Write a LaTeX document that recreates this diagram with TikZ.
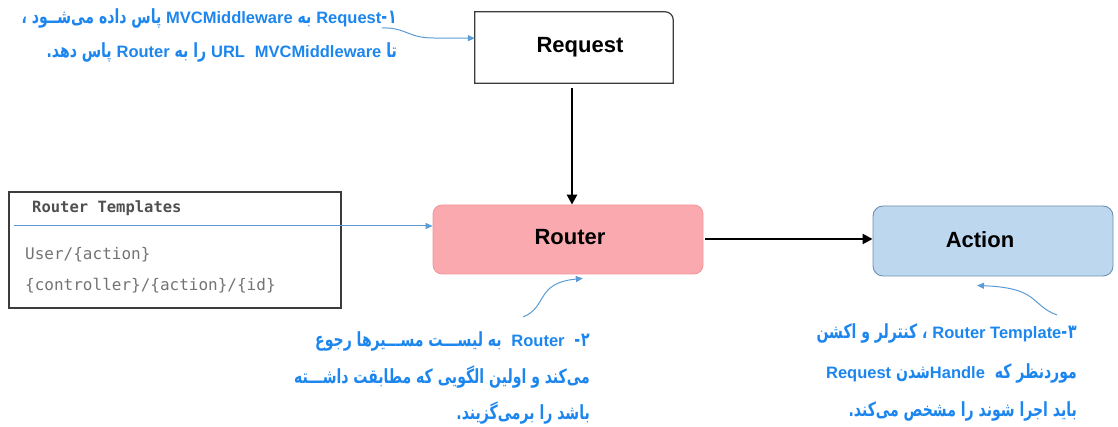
\documentclass[tikz,border=0pt]{standalone}
\usepackage{fontspec}
\setmainfont{Liberation Sans}
\newfontfamily\arfont[Script=Arabic,FakeStretch=0.72]{DejaVu Sans}
\newfontfamily\latfont{Liberation Sans}
\newfontfamily\codefont{DejaVu Sans Mono}
\TeXXeTstate=1
\usetikzlibrary{arrows.meta,calc}
\definecolor{notecol}{RGB}{28,134,238}
\definecolor{linkcol}{RGB}{91,155,213}
\definecolor{routerfill}{RGB}{250,170,174}
\definecolor{routerdraw}{RGB}{242,150,155}
\definecolor{actionfill}{RGB}{189,215,238}
\definecolor{actiondraw}{RGB}{112,142,178}
\definecolor{framegray}{RGB}{60,60,60}
\definecolor{hdrgray}{RGB}{80,80,80}
\definecolor{itemgray}{RGB}{115,115,115}
% Latin words inside the Persian notes
\newcommand\lat[1]{\beginL{\latfont\fontsize{16.5}{19}\selectfont #1}\endL}
\begin{document}
\begin{tikzpicture}[x=1pt,y=-1pt,
  boxlabel/.style={font=\latfont\bfseries\fontsize{22}{26}\selectfont,inner sep=0pt},
  flow/.style={line width=2.6pt,-{Triangle[length=10pt,width=10pt]}},
  link/.style={linkcol,line width=1pt,-{Triangle[length=7pt,width=6pt]}},
  note/.style={font=\arfont\bfseries\fontsize{19.5}{22}\selectfont,text=notecol,inner sep=0pt,anchor=base east},
  code/.style={font=\codefont\fontsize{16}{19}\selectfont,inner sep=0pt,anchor=base west}]
\useasboundingbox (0,0) rectangle (1118,427);

% Request box: one rounded corner (top right)
\node[minimum width=198pt,minimum height=71pt,inner sep=0pt] (req) at (574,47.5) {};
\draw[framegray,line width=1.2pt,fill=white] (req.south west) -- (req.north west)
  -- ([xshift=-8pt]req.north east)
  .. controls ([xshift=-3.6pt]req.north east) and ([yshift=-3.6pt]req.north east) ..
  ([yshift=-8pt]req.north east) -- (req.south east) -- cycle;
\node[boxlabel] (reqlabel) at ($(req.center)+(6,0)$) {Request};

% Router and Action
\node[draw=routerdraw,fill=routerfill,rounded corners=9pt,line width=0.8pt,
  minimum width=270pt,minimum height=69pt,inner sep=0pt] (router) at (568,239.5) {};
\node[boxlabel] (routerlabel) at ($(router.center)+(2,-2)$) {Router};
\node[draw=actiondraw,fill=actionfill,rounded corners=10pt,line width=0.9pt,
  minimum width=240pt,minimum height=70pt,inner sep=0pt] (action) at (993,241) {};
\node[boxlabel] (actionlabel) at ($(action.center)+(-13,-1)$) {Action};

% main flow
\draw[flow] ([xshift=-2pt,yshift=-5pt]req.south) -- ([xshift=-2pt]req.south |- router.north);
\draw[flow] ([xshift=2pt]router.east |- 0,239) -- (action.west |- 0,239);

% route templates table
\node[draw=framegray,line width=1.3pt,minimum width=332pt,minimum height=116pt,inner sep=0pt] (tpl) at (175,250) {};
\node[code,font=\codefont\bfseries\fontsize{15.5}{19}\selectfont,text=hdrgray] (tplhead) at (32,213) {Router Templates};
\node[code,text=itemgray] (tplusr) at (25,260) {User/\{action\}};
\node[code,text=itemgray] (tplctl) at (25,291) {\{controller\}/\{action\}/\{id\}};
\coordinate (tplin) at (14,226);
\draw[link] (tplin) -- (tplin -| router.west);

% note 1
\node[note] (n1a) at (397,24) {\beginR ۱\kern1pt-\lat{Request} به \lat{MVCMiddleware} پاس داده می^^^^200cشــود ،\endR};
\node[note] (n1b) at (397,58) {\beginR تا \lat{MVCMiddleware}\ \ \lat{URL} را به \lat{Router} پاس دهد\kern0pt.\endR};
\coordinate (c1) at (382,28);
\coordinate (c1tip) at ($(req.north west)!0.37!(req.south west)$);
\draw[link] (c1) .. controls (405,27) and (408,38) .. (433,38) -- (c1tip);

% note 2
\node[note] (n2a) at (590,346) {\beginR ۲\kern1pt-\ \ \lat{Router}\ \ به لیســـت مســـیرها رجوع\endR};
\node[note] (n2b) at (590,383) {\beginR می^^^^200cکند و اولین الگویی که مطابقت داشـــته\endR};
\node[note] (n2c) at (590,419) {\beginR باشد را برمی^^^^200cگزیند\kern0pt.\endR};
\coordinate (c2) at (523,317);
\coordinate (c2tip) at ($(router.south west)!0.555!(router.south east)+(0,4)$);
\draw[link] (c2) .. controls (548,307) and (535,283) .. (c2tip);

% note 3
\node[note] (n3a) at (1077,338) {\beginR ۳\kern1pt-\lat{Router Template} ، کنترلر و اکشن\endR};
\node[note] (n3b) at (1077,378) {\beginR موردنظر که\ \ \lat{Handle}شدن \lat{Request}\endR};
\node[note] (n3c) at (1077,416) {\beginR باید اجرا شوند را مشخص می^^^^200cکند\kern0pt.\endR};
\coordinate (c3) at (1057,315);
\coordinate (c3tip) at ($(action.south)+(-16,9)$);
\draw[link] (c3) .. controls (1030,305) and (1040,288) .. (c3tip);
\end{tikzpicture}
\end{document}
